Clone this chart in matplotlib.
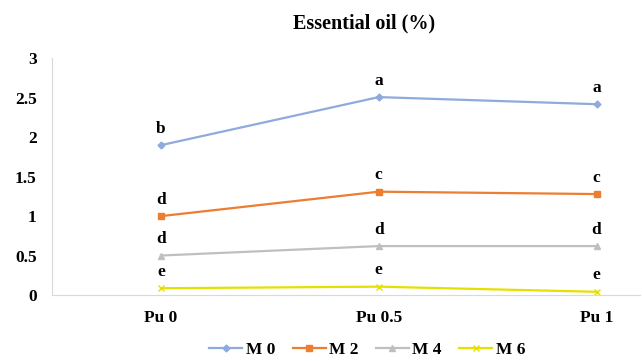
import numpy as np
import matplotlib.pyplot as plt

plt.rcParams['font.family'] = ['Liberation Serif', 'DejaVu Serif']
plt.rcParams['font.weight'] = 'bold'

categories = ['Pu 0', 'Pu 0.5', 'Pu 1']
series_names = ['M 0', 'M 2', 'M 4', 'M 6']
m0 = [1.90, 2.51, 2.42]
m2 = [1.00, 1.31, 1.28]
m4 = [0.50, 0.62, 0.62]
m6 = [0.085, 0.105, 0.04]
letters_m0 = ['b', 'a', 'a']
letters_m2 = ['d', 'c', 'c']
letters_m4 = ['d', 'd', 'd']
letters_m6 = ['e', 'e', 'e']

colors = ['#8FAADC', '#ED7D31', '#BFBFBF', '#E5E000']
markers = ['D', 's', '^', 'x']
msizes = [3.5, 5, 5, 4]

fig = plt.figure(figsize=(6.42, 3.61), dpi=100)
ax = fig.add_axes([0.081, 0.183, 0.916, 0.655])

x = np.arange(len(categories))
all_vals = [m0, m2, m4, m6]
all_letters = [letters_m0, letters_m2, letters_m4, letters_m6]
for vals, lets, c, mk, ms, name in zip(all_vals, all_letters, colors, markers, msizes, series_names):
    ax.plot(x, vals, color=c, marker=mk, markersize=ms, linewidth=1.6, label=name)
    for xi, v, l in zip(x, vals, lets):
        ax.annotate(l, (xi, v), xytext=(0, 6), textcoords='offset points',
                    ha='center', va='bottom', fontsize=12.5, fontweight='bold')

ax.set_xlim(-0.5, 2.2)
ax.set_ylim(0, 3)
ax.set_yticks([0, 0.5, 1, 1.5, 2, 2.5, 3])
ax.set_yticklabels(['0', '0.5', '1', '1.5', '2', '2.5', '3'])
ax.set_xticks(x)
ax.set_xticklabels(categories)
ax.tick_params(length=0, labelsize=12.5)
ax.tick_params(axis='y', pad=11)
ax.tick_params(axis='x', pad=11)
for s in ['top', 'right']:
    ax.spines[s].set_visible(False)
ax.spines['left'].set_color('#D9D9D9')
ax.spines['bottom'].set_color('#D9D9D9')

fig.text(0.567, 0.936, 'Essential oil (%)', ha='center', va='center', fontsize=14.5, fontweight='bold')

fig.legend(loc='center', bbox_to_anchor=(0.572, 0.03), ncol=4, frameon=False,
           fontsize=12.5, handlelength=1.9, columnspacing=1.0, handletextpad=0.2)

fig.savefig('out.png', dpi=100)
